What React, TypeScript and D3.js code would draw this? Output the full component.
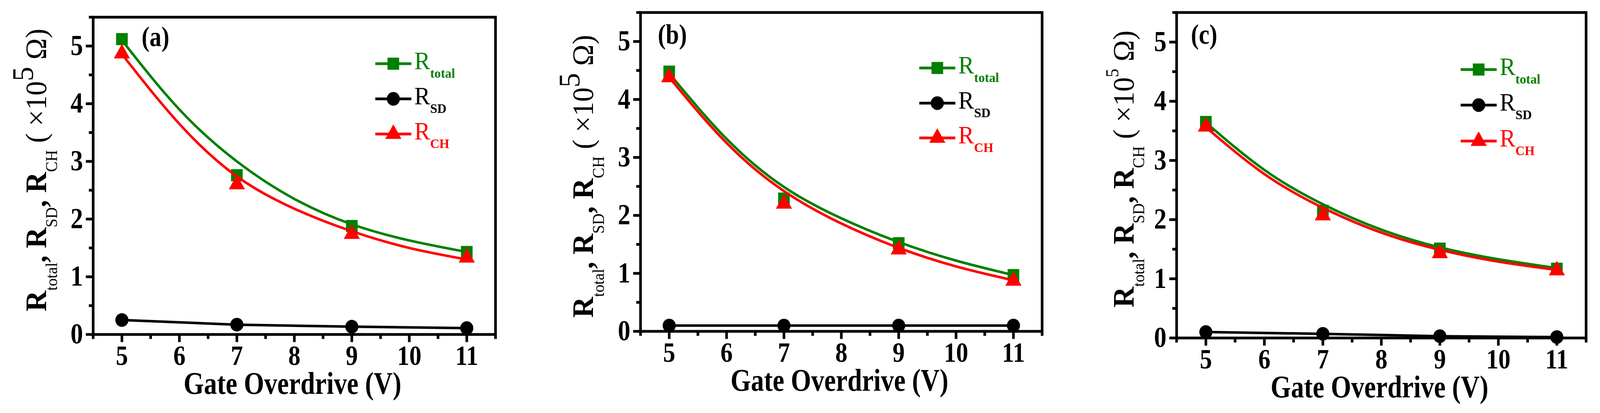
import React, { useEffect } from "react";
import * as d3 from "d3";

// gate overdrive values of the measured points and of the fitted curves
const gateV = [5, 7, 9, 11];
const fitV = [5, 6, 7, 8, 9, 10, 11];

// panel (a)
const totalA = [5.12, 2.76, 1.88, 1.43];
const sdA = [0.25, 0.17, 0.135, 0.11];
const chA = [4.87, 2.6, 1.74, 1.33];
const totalFitA = [5.1, 3.9, 3.0, 2.35, 1.91, 1.63, 1.43];
const chFitA = [4.86, 3.65, 2.74, 2.18, 1.79, 1.5, 1.3];

// panel (b)
const totalB = [4.48, 2.29, 1.52, 0.97];
const sdB = [0.1, 0.1, 0.1, 0.1];
const chB = [4.38, 2.2, 1.41, 0.87];
const totalFitB = [4.45, 3.32, 2.49, 1.95, 1.54, 1.22, 0.97];
const chFitB = [4.38, 3.25, 2.42, 1.86, 1.44, 1.12, 0.88];

// panel (c)
const totalC = [3.65, 2.15, 1.51, 1.17];
const sdC = [0.1, 0.07, 0.03, 0.015];
const chC = [3.57, 2.07, 1.43, 1.14];
const totalFitC = [3.64, 2.84, 2.26, 1.83, 1.53, 1.33, 1.18];
const chFitC = [3.56, 2.77, 2.2, 1.78, 1.49, 1.29, 1.15];

const xMajor = [5, 6, 7, 8, 9, 10, 11];
const xMinor = [4.5, 5.5, 6.5, 7.5, 8.5, 9.5, 10.5, 11.5];
const yMajor = [0, 1, 2, 3, 4, 5];
const yMinor = [0.5, 1.5, 2.5, 3.5, 4.5, 5.5];

const GREEN = "#008000";
const RED = "#ff0000";
const FONT = "'Liberation Serif', 'Times New Roman', serif";
const W = 4259;
const H = 1057;

type Panel = {
  label: string;
  left: number; right: number; top: number; zero: number;
  total: number[]; sd: number[]; ch: number[];
  totalFit: number[]; chFit: number[];
  labelX: number; labelY: number;
  legX: number; legRows: number[];
  titleX: number; titleY: number; bigSup: boolean;
};

const panels: Panel[] = [
  {
    label: "(a)", left: 248, right: 1319, top: 44, zero: 856,
    total: totalA, sd: sdA, ch: chA, totalFit: totalFitA, chFit: chFitA,
    labelX: 377, labelY: 118, legX: 999, legRows: [163, 253, 343],
    titleX: 123, titleY: 797, bigSup: true,
  },
  {
    label: "(b)", left: 1705, right: 2774, top: 32, zero: 848,
    total: totalB, sd: sdB, ch: chB, totalFit: totalFitB, chFit: chFitB,
    labelX: 1751, labelY: 112, legX: 2447, legRows: [174, 264, 353],
    titleX: 1578, titleY: 813, bigSup: true,
  },
  {
    label: "(c)", left: 3132, right: 4222, top: 32, zero: 865,
    total: totalC, sd: sdC, ch: chC, totalFit: totalFitC, chFit: chFitC,
    labelX: 3170, labelY: 112, legX: 3888, legRows: [178, 269, 361],
    titleX: 3017, titleY: 787, bigSup: false,
  },
];

const squareSym = d3.symbol(d3.symbolSquare, 961)()!;
const circleSym = d3.symbol(d3.symbolCircle, 960)()!;
const triSym = d3.symbol(d3.symbolTriangle, 800)()!;

const ChartPanel: React.FC<{ p: Panel }> = ({ p }) => {
  const x = d3.scaleLinear().domain([4.5, 11.5]).range([p.left, p.right]);
  const y = d3.scaleLinear().domain([0, 5.5]).range([p.zero, p.top]);

  const smooth = d3.line<number>()
    .x((_, i) => x(fitV[i]))
    .y((d) => y(d))
    .curve(d3.curveNatural);
  const straight = d3.line<number>()
    .x((_, i) => x(gateV[i]))
    .y((d) => y(d));

  const lw = 7;
  const cx = (p.left + p.right) / 2;

  const legend = [
    { color: GREEN, sym: squareSym, sub: "total" },
    { color: "#000", sym: circleSym, sub: "SD" },
    { color: RED, sym: triSym, sub: "CH" },
  ];

  return (
    <g>
      {/* curves and points */}
      <path d={smooth(p.totalFit)!} fill="none" stroke={GREEN} strokeWidth={6.5} />
      {p.total.map((v, i) => (
        <path key={"s" + i} d={squareSym} fill={GREEN} transform={`translate(${x(gateV[i])},${y(v)})`} />
      ))}
      <path d={straight(p.sd)!} fill="none" stroke="#000" strokeWidth={6.5} />
      {p.sd.map((v, i) => (
        <path key={"c" + i} d={circleSym} fill="#000" transform={`translate(${x(gateV[i])},${y(v)})`} />
      ))}
      <path d={smooth(p.chFit)!} fill="none" stroke={RED} strokeWidth={6.5} />
      {p.ch.map((v, i) => (
        <path key={"t" + i} d={triSym} fill={RED} transform={`translate(${x(gateV[i])},${y(v)})`} />
      ))}

      {/* frame */}
      <rect x={p.left} y={p.top} width={p.right - p.left} height={p.zero - p.top}
        fill="none" stroke="#000" strokeWidth={lw} />

      {/* x ticks */}
      {xMajor.map((t) => (
        <line key={"xm" + t} x1={x(t)} x2={x(t)} y1={p.zero} y2={p.zero + 19.5} stroke="#000" strokeWidth={lw} />
      ))}
      {xMinor.map((t) => (
        <line key={"xn" + t} x1={x(t)} x2={x(t)} y1={p.zero} y2={p.zero + 11.5} stroke="#000" strokeWidth={lw} />
      ))}
      {xMajor.map((t) => (
        <text key={"xl" + t} transform={`translate(${x(t)},${p.zero + 78}) scale(0.9,1)`}
          textAnchor="middle" fontSize={72} fontWeight="bold">{t}</text>
      ))}

      {/* y ticks */}
      {yMajor.map((t) => (
        <line key={"ym" + t} x1={p.left} x2={p.left - 19.5} y1={y(t)} y2={y(t)} stroke="#000" strokeWidth={lw} />
      ))}
      {yMinor.map((t) => (
        <line key={"yn" + t} x1={p.left} x2={p.left - 11.5} y1={y(t)} y2={y(t)} stroke="#000" strokeWidth={lw} />
      ))}
      {yMajor.map((t) => (
        <text key={"yl" + t} transform={`translate(${p.left - 27},${y(t) + 23}) scale(0.9,1)`}
          textAnchor="end" fontSize={74} fontWeight="bold">{t}</text>
      ))}

      {/* axis titles */}
      <text transform={`translate(${cx - 5},${p.zero + 152}) scale(0.87,1)`}
        textAnchor="middle" fontSize={80} fontWeight="bold">Gate Overdrive (V)</text>

      <text transform={`translate(${p.titleX},${p.titleY}) rotate(-90) scale(0.92,1)`}
        style={{ whiteSpace: "pre" }} fontSize={80}>
        <tspan fontWeight="bold">R</tspan>
        <tspan fontSize={44} dy={29}>total</tspan>
        <tspan fontWeight="bold" dy={-29}>, R</tspan>
        <tspan fontSize={44} dy={29}>SD</tspan>
        <tspan fontWeight="bold" dy={-29}>, R</tspan>
        <tspan fontSize={44} dy={29}>CH</tspan>
        <tspan dy={-29}> ( ×10</tspan>
        <tspan fontSize={p.bigSup ? 80 : 48} dy={p.bigSup ? -36 : -40}>5</tspan>
        <tspan dy={p.bigSup ? 36 : 40}> Ω)</tspan>
      </text>

      {/* panel label */}
      <text transform={`translate(${p.labelX},${p.labelY}) scale(0.88,1)`}
        fontSize={72} fontWeight="bold">{p.label}</text>

      {/* legend */}
      {legend.map((l, i) => {
        const ry = p.legRows[i];
        return (
          <g key={"lg" + i}>
            <line x1={p.legX} x2={p.legX + 96} y1={ry} y2={ry} stroke={l.color} strokeWidth={7} />
            <path d={l.sym} fill={l.color} transform={`translate(${p.legX + 48},${ry})`} />
            <text x={p.legX + 104} y={ry + 14} fill={l.color} fontSize={63}>
              R<tspan fontSize={34} fontWeight="bold" dy={22}>{l.sub}</tspan>
            </text>
          </g>
        );
      })}
    </g>
  );
};

export default function App() {
  useEffect(() => {
    document.documentElement.style.overflow = "hidden";
    document.body.style.margin = "0";
    document.body.style.overflow = "hidden";
  }, []);

  return (
    <svg viewBox={`0 0 ${W} ${H}`} preserveAspectRatio="none"
      style={{
        position: "fixed", left: 0, top: 0, width: "100vw", height: "100vh",
        display: "block", background: "#fff", fontFamily: FONT,
      }}>
      <rect width={W} height={H} fill="#fff" />
      {panels.map((p) => (
        <ChartPanel key={p.label} p={p} />
      ))}
    </svg>
  );
}
